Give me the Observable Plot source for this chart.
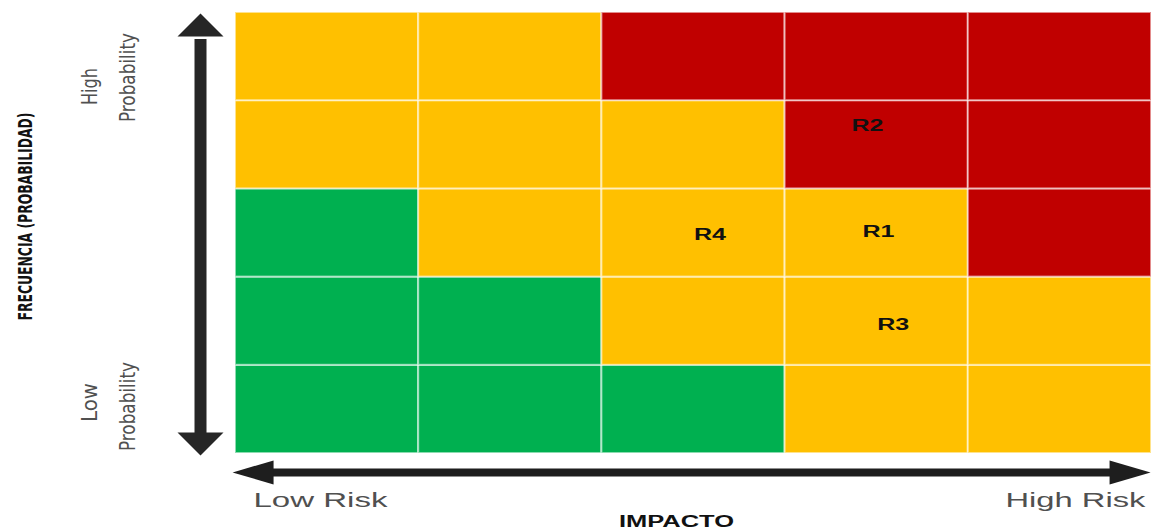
<!DOCTYPE html>
<html><head><meta charset="utf-8">
<script src="https://cdn.jsdelivr.net/npm/d3@7"></script>
<script src="https://cdn.jsdelivr.net/npm/@observablehq/plot@0.6"></script>
<style>body{margin:0;background:#fff;} #chart svg{display:block;}</style>
</head><body><div id="chart"></div>
<script>
// Impact columns (left→right) and probability rows (bottom→top)
const impactLevels = [1, 2, 3, 4, 5];
const probLevels = [1, 2, 3, 4, 5];
// risk level of each cell: rows = probability 1..5, columns = impact 1..5
const riskRows = [
  ["L", "L", "L", "M", "M"],
  ["L", "L", "M", "M", "M"],
  ["L", "M", "M", "M", "H"],
  ["M", "M", "M", "H", "H"],
  ["M", "M", "H", "H", "H"]
];
const riskLevelNames = ["L", "M", "H"];
const riskLevelColors = ["#00B050", "#FFC000", "#C00000"];
// plotted risks (impact, probability on a 0–5 continuous grid)
const riskNames = ["R1", "R2", "R3", "R4"];
const riskImpact = [3.51, 3.45, 3.59, 2.59];
const riskProb = [2.51, 3.71, 1.46, 2.48];

const cells = [];
probLevels.forEach((p, i) => impactLevels.forEach((im, j) => cells.push({impact: im, prob: p, level: riskRows[i][j]})));
const risks = riskNames.map((n, i) => ({name: n, x: riskImpact[i], y: riskProb[i]}));

const vHead = {draw(ctx) { ctx.moveTo(0, 0); ctx.lineTo(23, 23); ctx.lineTo(-23, 23); ctx.closePath(); }};
const hHead = {draw(ctx) { ctx.moveTo(0, 0); ctx.lineTo(-41, -12); ctx.lineTo(-41, 12); ctx.closePath(); }};

const gray = "#505050";
const narrow = "'Liberation Sans Narrow', 'DejaVu Sans Condensed', sans-serif";
const chart = Plot.plot({
  width: 1151,
  height: 531,
  marginLeft: 235,
  marginRight: 0,
  marginTop: 12,
  marginBottom: 78,
  style: {fontFamily: "'Liberation Sans', Arial, sans-serif", background: "#fff"},
  x: {domain: [0, 5], axis: null},
  y: {domain: [0, 5], axis: null},
  color: {domain: riskLevelNames, range: riskLevelColors},
  marks: [
    Plot.rect(cells, {x1: d => d.impact - 1, x2: d => d.impact, y1: d => d.prob - 1, y2: d => d.prob,
      fill: "level", stroke: "#ffffff", strokeOpacity: 0.55, strokeWidth: 2}),
    Plot.text(risks, {x: "x", y: "y", text: "name", fontSize: 16, fontWeight: "bold", fill: "#111"}),
    // vertical double arrow
    Plot.link([0], {x1: -0.191, x2: -0.191, y1: 4.7, y2: 0.2, stroke: "#262626", strokeWidth: 12}),
    Plot.dot([0, 180], {x: -0.191, y: d => d === 0 ? 4.989 : -0.023, rotate: d => d, symbol: vHead, fill: "#262626", stroke: "none"}),
    // horizontal double arrow
    Plot.link([0], {x1: 0.1, x2: 4.9, y1: -0.215, y2: -0.215, stroke: "#1e1e1e", strokeWidth: 8}),
    Plot.dot([0, 180], {x: d => d === 0 ? 4.995 : -0.016, y: -0.215, rotate: d => d, symbol: hHead, fill: "#1e1e1e", stroke: "none"}),
    // labels
    Plot.text(["FRECUENCIA (PROBABILIDAD)"], {x: -1.146, y: 2.687, text: d => d, rotate: -90, fontSize: 20, fontWeight: "bold", fill: "#111", fontFamily: narrow}),
    Plot.text(["High"], {x: -0.791, y: 4.161, text: d => d, rotate: -90, fontSize: 21, fill: gray, fontFamily: narrow}),
    Plot.text(["Probability"], {x: -0.584, y: 4.263, text: d => d, rotate: -90, fontSize: 21, fill: gray, fontFamily: narrow}),
    Plot.text(["Low"], {x: -0.791, y: 0.578, text: d => d, rotate: -90, fontSize: 21, fill: gray, fontFamily: narrow}),
    Plot.text(["Probability"], {x: -0.584, y: 0.533, text: d => d, rotate: -90, fontSize: 21, fill: gray, fontFamily: narrow}),
    Plot.text(["Low Risk"], {x: 0.464, y: -0.533, text: d => d, fontSize: 21, fill: gray}),
    Plot.text(["High Risk"], {x: 4.585, y: -0.533, text: d => d, fontSize: 21, fill: gray}),
    Plot.text(["IMPACTO"], {x: 2.407, y: -0.77, text: d => d, fontSize: 16, fontWeight: "bold", fill: "#111"})
  ]
});
document.getElementById("chart").appendChild(chart);

const textLengths = {"R1": 32, "R2": 32, "R3": 32, "R4": 32, "Low Risk": 134, "High Risk": 140, "IMPACTO": 115,
  "FRECUENCIA (PROBABILIDAD)": 208, "High": 37, "Low": 39, "Probability": 89};
chart.querySelectorAll("text").forEach(t => {
  const L = textLengths[t.textContent];
  if (L) { t.setAttribute("textLength", L); t.setAttribute("lengthAdjust", "spacingAndGlyphs"); }
});
</script>
</body></html>
